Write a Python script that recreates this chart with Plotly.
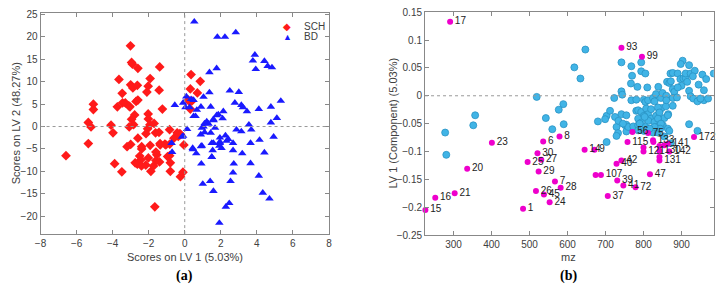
import plotly.graph_objects as go

# ---------------- Panel (a) data ----------------
sch_x = [-3.01,-2.95,-2.9,-2.6,-3.65,-3.47,-3.0,-2.88,-2.63,-5.07,-5.07,-3.74,-3.45,-3.3,-3.1,-3.04,-2.7,-2.6,-2.78,-2.95,
         -2.84,-3.08,-2.1,-2.03,-1.92,-1.42,-1.39,-1.24,-2.03,-2.02,-1.93,-2.06,-1.7,-1.62,-1.43,-0.84,-4.09,-3.98,-5.35,-5.2,
         -5.35,-2.15,-2.6,-1.37,-1.1,-0.83,-0.6,
         0.35,0.86,0.31,0.7,0.27,0.31,-0.27,-0.36,-0.05,0.2,0.4,-0.42,-0.24,
         -6.59,-3.89,-3.49,-3.2,-3.0,-2.75,-2.63,-2.43,-2.5,-2.4,-2.16,-2.39,-2.39,-1.92,-2.02,-1.88,-1.73,-1.6,-1.55,-1.6,
         -1.66,-1.36,-1.05,-1.4,-0.95,-0.8,-0.8,-0.24,-0.1,-0.84]
sch_y = [18.0,14.3,13.9,13.0,10.5,7.4,9.3,8.6,9.2,5.0,3.8,4.4,5.3,5.3,4.6,4.4,5.6,5.9,2.6,1.6,
         0.4,-0.1,7.7,9.0,10.7,8.1,13.3,3.9,2.8,1.7,0.4,-0.5,0.7,-1.4,-1.3,-0.7,0.3,-1.4,0.9,-0.1,
         -3.8,-1.6,-2.6,-3.8,-3.9,-3.9,-2.6,
         11.6,10.1,8.4,7.5,5.6,3.9,-1.6,-2.2,-4.1,5.9,5.7,-1.4,-1.8,
         -6.5,-8.3,-10.1,-4.5,-4.0,-8.1,-8.4,-7.4,-6.6,-8.8,-8.6,-4.5,-5.0,-4.2,-7.0,-10.0,-8.8,-7.6,-6.3,-5.7,
         -17.9,-4.1,-4.1,-7.9,-6.7,-10.0,-8.1,-11.2,-10.2,-6.5]

bd_x = [0.53,1.81,2.23,2.83,3.89,3.78,3.94,4.42,4.6,4.84,1.37,1.77,2.5,3.0,1.37,0.09,0.35,0.49,1.04,-0.09,
        0.04,0.27,-0.55,0.67,0.49,1.44,2.78,3.14,3.23,3.45,4.11,4.78,5.33,1.77,2.14,2.1,1.59,1.22,1.04,1.32,
        1.68,1.44,3.56,3.69,2.87,3.14,5.11,4.78,0.89,0.13,-0.15,2.26,2.41,2.68,1.95,1.95,1.59,0.95,0.44,3.65,
        4.15,4.93,
        0.45,0.64,1.5,1.95,2.32,1.92,2.04,1.55,2.68,3.19,4.42,1.5,0.92,2.72,3.65,2.68,4.11,1.0,1.41,2.54,
        1.59,4.33,4.7,2.47,2.28,1.92,-0.73,-0.7,0.9,0.6,1.6,1.86,1.1,0.95,1.1,-0.09,0.9,1.5]
bd_y = [23.4,20.0,20.0,21.0,16.0,14.7,12.8,14.6,13.5,13.2,12.1,13.0,8.0,7.7,7.6,6.7,6.1,5.9,6.6,5.3,
        4.3,4.3,4.8,3.7,2.3,4.4,5.3,4.8,4.3,3.4,3.9,4.4,5.7,2.5,3.4,1.8,1.6,1.1,0.0,0.6,
        -0.3,-1.4,0.4,-0.7,-0.7,-1.1,1.9,0.9,-1.8,-0.6,-2.3,-2.0,-2.8,-3.7,-2.5,-3.7,-3.7,-4.3,-4.8,-3.7,
        -3.0,-2.3,
        -5.1,-6.0,-3.7,-3.4,-3.2,-4.3,-4.8,-5.3,-5.3,-6.0,-5.8,-6.8,-8.3,-8.3,-8.2,-10.3,-11.0,-12.8,-12.2,-12.2,
        -14.4,-14.8,-16.1,-17.1,-17.9,-21.5,-3.7,-5.7,4.4,2.3,1.4,2.7,0.7,-0.3,-1.3,-2.1,-4.4,-6.8]

legend_names = ["SCH", "BD"]

# ---------------- Panel (b) data ----------------
cyan_mz = [519,357,352,278,281,647,618,634,589,577,543,560,590,680,703,699,723,729,733,729,703,752,759,755,712,725,734,
           742,768,794,794,805,770,767,784,810,742,744,768,781,801,805,812,825,829,833,846,839,862,868,872,871,877,877,881,
           877,888,890,897,905,911,903,898,920,911,924,920,924,931,942,955,959,959,985,920,942,
           781,786,794,807,812,801,820,833,842,848,859,865,877,786,794,813,829,842,855,742,755,760,773,786,805,820,833,851,
           864,786,801,825,838,868,855,872,
           755,746,790,803,820,838,842,864,838,846,844,829,816,
           935,945,965,900,915,850,860,890,950,970,930,860]
cyan_val = [-0.002,-0.035,-0.053,-0.066,-0.106,0.083,0.051,0.031,-0.015,-0.025,-0.040,-0.060,-0.051,-0.046,-0.036,-0.042,
            -0.004,-0.056,-0.067,-0.072,-0.083,-0.053,-0.058,-0.064,-0.027,-0.038,-0.045,
            0.060,0.053,0.060,0.044,0.040,0.036,0.022,0.016,0.015,0.008,0.002,-0.008,-0.007,-0.007,-0.011,-0.008,-0.004,
            -0.010,0.003,-0.004,0.016,0.025,0.023,0.026,0.040,0.041,0.012,0.007,-0.004,-0.003,0.040,0.030,0.031,0.032,
            0.063,0.057,0.055,0.040,0.040,0.009,-0.001,-0.005,-0.010,0.038,0.010,-0.008,0.040,-0.051,-0.063,
            -0.027,-0.026,-0.029,-0.023,-0.033,-0.036,-0.041,-0.036,-0.028,-0.022,-0.019,-0.033,-0.018,-0.041,-0.048,
            -0.045,-0.047,-0.043,-0.040,-0.033,-0.052,-0.056,-0.055,-0.053,-0.056,-0.059,-0.056,-0.053,-0.059,-0.062,
            -0.063,-0.066,-0.066,-0.063,-0.073,-0.085,
            -0.035,-0.050,-0.050,-0.038,-0.024,-0.021,-0.030,-0.035,-0.041,-0.050,-0.059,-0.056,-0.059,
            0.045,0.020,0.030,0.018,0.025,0.005,0.000,0.015,-0.005,-0.005,0.035,-0.008]

mag_mz = [291,401,336,303,252,226,483,536,579,521,495,531,524,567,582,517,538,553,645,671,674,688,742,729,731,747,779,706,
          817,842,842,800,800,842,842,868,864,855,825,826,771,812,758,933,742,796]
mag_val = [0.133,-0.0845,-0.131,-0.175,-0.183,-0.205,-0.203,-0.082,-0.073,-0.103,-0.119,-0.115,-0.136,-0.154,-0.165,
           -0.171,-0.177,-0.191,-0.097,-0.097,-0.142,-0.142,-0.116,-0.122,-0.152,-0.161,-0.164,-0.180,
           -0.141,-0.116,-0.110,-0.100,-0.093,-0.099,-0.090,-0.100,-0.086,-0.089,-0.080,-0.083,-0.065,-0.067,-0.083,
           -0.074,0.086,0.070]
mag_lab = ["17","23","20","21","16","15","1","6","8","30","25","27","29","7","28","26","45","24","14","9","","107",
           "42","40","39","41","72","37","47","131","","121","","130","","142","141","","133","","56","75","115",
           "172","93","99"]

# ---------------- Figure ----------------
AX = "#404040"
FONT = "Liberation Sans, Arial, sans-serif"
SERIF = "Liberation Serif, Times New Roman, serif"

fig = go.Figure()
fig.add_trace(go.Scatter(x=sch_x, y=sch_y, mode="markers", name=legend_names[0], showlegend=False,
                         marker=dict(symbol="diamond", size=7.5, color="#ff1a1a", line=dict(width=0)),
                         xaxis="x", yaxis="y"))
fig.add_trace(go.Scatter(x=bd_x, y=bd_y, mode="markers", name=legend_names[1], showlegend=False,
                         marker=dict(symbol="triangle-up", size=7.5, color="#1a1aff", line=dict(width=0)),
                         xaxis="x", yaxis="y"))
fig.add_trace(go.Scatter(x=cyan_mz, y=cyan_val, mode="markers", showlegend=False,
                         marker=dict(symbol="circle", size=7, color="#40b4e6", line=dict(width=0.8, color="#2a93c4")),
                         xaxis="x2", yaxis="y2"))
fig.add_trace(go.Scatter(x=mag_mz, y=mag_val, mode="markers+text", showlegend=False, text=mag_lab,
                         textposition="middle right", textfont=dict(size=10, color="#222", family=FONT),
                         marker=dict(symbol="circle", size=6, color="#ee00cc", line=dict(width=0)),
                         xaxis="x2", yaxis="y2", cliponaxis=False))

axcommon = dict(showgrid=False, zeroline=False, showline=True, linecolor="#888", linewidth=1,
                mirror="ticks", ticks="inside", ticklen=4, tickcolor="#888",
                tickfont=dict(size=10, color=AX, family=FONT))


def ann(text, x, y, size=11, color=AX, family=FONT, angle=0, xanchor="center"):
    return dict(text=text, xref="paper", yref="paper", x=x / 723, y=1 - y / 294, showarrow=False,
                xanchor=xanchor, yanchor="middle", textangle=angle,
                font=dict(size=size, color=color, family=family))


fig.update_layout(
    width=723, height=294, margin=dict(l=0, r=0, t=0, b=0),
    paper_bgcolor="white", plot_bgcolor="white",
    font=dict(family=FONT, color=AX),
    xaxis=dict(domain=[35/723, 327/723], range=[-8, 8], tickvals=[-8,-6,-4,-2,0,2,4,6,8], anchor="y", **axcommon),
    yaxis=dict(domain=[1-238/294, 1-8/294], range=[-24, 25.4], tickvals=[-20,-15,-10,-5,0,5,10,15,20,25],
               anchor="x", **axcommon),
    xaxis2=dict(domain=[424.3/723, 716.7/723], range=[225, 985], tickvals=[300,400,500,600,700,800,900],
                anchor="y2", **axcommon),
    yaxis2=dict(domain=[1-239/294, 1-7.5/294], range=[-0.25, 0.15],
                tickvals=[-0.25,-0.2,-0.15,-0.1,-0.05,0,0.05,0.1,0.15],
                ticktext=["\u22120.25","\u22120.2","\u22120.15","\u22120.1","\u22120.05","0","0.05","0.1","0.15"],
                anchor="x2", **axcommon),
    showlegend=False,
    shapes=[
        dict(type="line", xref="x", yref="y", x0=-8, x1=8, y0=0, y1=0, line=dict(color="#999", width=1, dash="dot")),
        dict(type="line", xref="x", yref="y", x0=0, x1=0, y0=-24, y1=25.4, line=dict(color="#999", width=1, dash="dot")),
        dict(type="line", xref="x2", yref="y2", x0=225, x1=985, y0=0, y1=0, line=dict(color="#999", width=1, dash="dot")),
    ],
    annotations=[
        ann("Scores on LV 1 (5.03%)", 181, 262),
        ann("Scores on LV 2 (48.27%)", 11, 123, angle=-90),
        ann("mz", 570, 262),
        ann("LV 1 (Component) (5.03%)", 392, 123, angle=-90),
        ann("<b>(a)</b>", 181, 282, size=14, color="#000", family=SERIF),
        ann("<b>(b)</b>", 570, 282, size=14, color="#000", family=SERIF),
        # legend (panel a)
        ann("\u25c6", 285, 22, size=10, color="#ff1a1a"),
        ann("\u25b2", 285, 33, size=9, color="#1a1aff"),
        ann(legend_names[0], 300, 22, size=10, xanchor="left"),
        ann(legend_names[1], 300, 33, size=10, xanchor="left"),
    ],
)

fig.write_html("out.html")
